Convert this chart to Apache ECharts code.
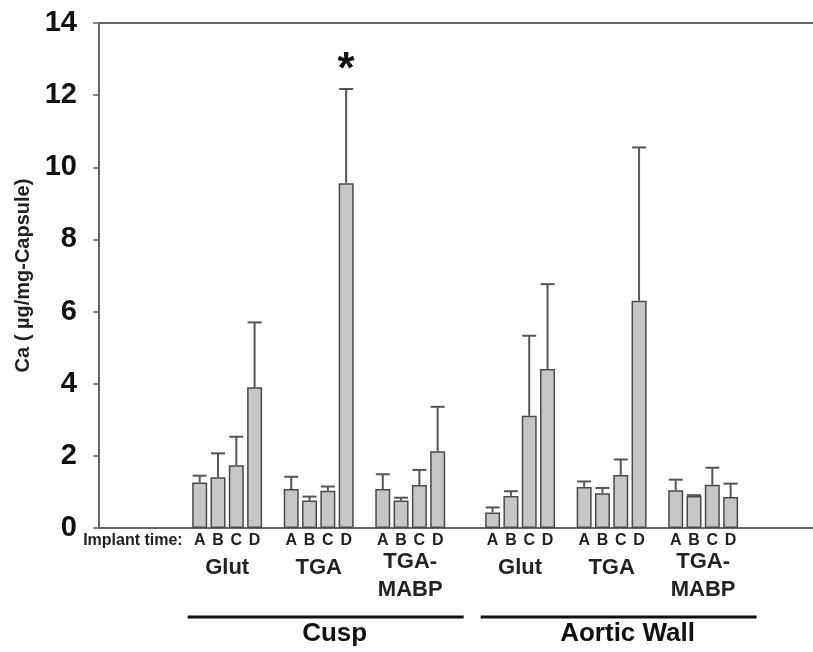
<!DOCTYPE html>
<html>
<head>
<meta charset="utf-8">
<script src="https://cdn.jsdelivr.net/npm/echarts@6/dist/echarts.min.js"></script>
<style>
  html, body { margin: 0; padding: 0; background: #fff; }
  #chart { width: 813px; height: 652px; }
</style>
</head>
<body>
<div id="chart"></div>
<script>
// implant times, materials and tissues
const times = ['A', 'B', 'C', 'D']
const materials = ['Glut', 'TGA', 'TGA-\nMABP']
const tissues = ['Cusp', 'Aortic Wall']

// mean Ca (µg/mg capsule) for times A-D
const cuspGlut = [1.26, 1.41, 1.74, 3.90]
const cuspTGA = [1.08, 0.76, 1.03, 9.56]
const cuspMABP = [1.08, 0.76, 1.19, 2.13]
const wallGlut = [0.43, 0.89, 3.11, 4.41]
const wallTGA = [1.14, 0.96, 1.47, 6.30]
const wallMABP = [1.05, 0.89, 1.20, 0.86]

// upper error bar (SD)
const cuspGlutSd = [0.19, 0.66, 0.79, 1.80]
const cuspTGASd = [0.34, 0.11, 0.12, 2.61]
const cuspMABPSd = [0.41, 0.08, 0.42, 1.23]
const wallGlutSd = [0.14, 0.13, 2.22, 2.35]
const wallTGASd = [0.15, 0.15, 0.43, 4.25]
const wallMABPSd = [0.29, 0.02, 0.47, 0.37]

// significance marks
const cuspTGAMarks = ['', '', '', '*']
const noMarks = ['', '', '', '']

const yTicks = [0, 2, 4, 6, 8, 10, 12, 14]

const FONT = 'Liberation Sans, Arial, sans-serif'

const groups = [
    [[cuspGlut, cuspGlutSd, noMarks], [cuspTGA, cuspTGASd, cuspTGAMarks], [cuspMABP, cuspMABPSd, noMarks]],
    [[wallGlut, wallGlutSd, noMarks], [wallTGA, wallTGASd, noMarks], [wallMABP, wallMABPSd, noMarks]]
]

// lay bars out on a category axis with empty slots between groups
let cats = [], barData = [], errData = [], marks = []
let groupStart = [], tissueRange = []
const pushBlank = () => { cats.push(''); barData.push(null) }
for (let i = 0; i < 5; i++) pushBlank()
groups.forEach((tissue, ti) => {
    let first = cats.length
    tissue.forEach((g, mi) => {
        groupStart.push({ idx: cats.length, name: materials[mi] })
        for (let k = 0; k < times.length; k++) {
            errData.push([cats.length, g[0][k], g[1][k]])
            marks.push(g[2][k])
            cats.push(times[k])
            barData.push(g[0][k])
        }
        pushBlank()
    })
    tissueRange.push({ first: first, last: cats.length - 2, name: tissues[ti] })
    pushBlank()
})
pushBlank()
pushBlank()

let chart = echarts.init(document.getElementById('chart'))

let option = {
    animation: false,
    grid: { left: 99, top: 23, right: 0, bottom: 124 },
    xAxis: [
        {
            type: 'category',
            data: cats,
            position: 'bottom',
            axisLine: { lineStyle: { color: '#666', width: 2 } },
            axisTick: { show: false },
            axisLabel: { interval: 0, margin: 5, fontSize: 16, fontWeight: 'bold', color: '#222', fontFamily: FONT },
            splitLine: { show: false }
        },
        {
            type: 'category',
            data: cats,
            position: 'top',
            axisLine: { lineStyle: { color: '#666', width: 2 } },
            axisTick: { show: false },
            axisLabel: { show: false },
            splitLine: { show: false }
        }
    ],
    yAxis: {
        type: 'value',
        min: yTicks[0],
        max: yTicks[yTicks.length - 1],
        interval: yTicks[1] - yTicks[0],
        axisLine: { show: true, lineStyle: { color: '#666', width: 2 } },
        axisTick: { show: true, length: 6, lineStyle: { color: '#666', width: 1.5 } },
        axisLabel: { fontSize: 29, fontWeight: 'bold', color: '#111', margin: 22, fontFamily: FONT },
        splitLine: { show: false },
        name: 'Ca ( µg/mg-Capsule)',
        nameLocation: 'middle',
        nameGap: 66,
        nameRotate: 90,
        nameTextStyle: { fontSize: 20, fontWeight: 'bold', color: '#222', fontFamily: FONT }
    },
    series: [
        {
            type: 'bar',
            data: barData,
            barWidth: 15,
            itemStyle: { color: '#c6c6c6', borderColor: '#4a4a4a', borderWidth: 1.5 }
        },
        {
            type: 'custom',
            data: errData,
            dimensions: ['x', 'mean', 'sd'],
            encode: { x: 0, y: 1 },
            z: 3,
            renderItem: (params, api) => {
                let x = api.value(0), m = api.value(1), s = api.value(2)
                let p0 = api.coord([x, m])
                let p1 = api.coord([x, m + s])
                let children = [
                    { type: 'line', shape: { x1: p0[0], y1: p0[1], x2: p1[0], y2: p1[1] }, style: { stroke: '#555', lineWidth: 2 } },
                    { type: 'line', shape: { x1: p1[0] - 7, y1: p1[1], x2: p1[0] + 7, y2: p1[1] }, style: { stroke: '#555', lineWidth: 2 } }
                ]
                let mk = marks[params.dataIndex]
                if (mk) {
                    children.push({
                        type: 'text',
                        style: { text: mk, x: p1[0], y: p1[1] - 18, align: 'center', verticalAlign: 'middle', fontSize: 44, fontWeight: 'bold', fill: '#111', fontFamily: FONT }
                    })
                }
                return { type: 'group', children: children }
            }
        }
    ]
}

chart.setOption(option)

// group and tissue labels placed from the axis scale
let px = (i) => chart.convertToPixel({ xAxisIndex: 0 }, i)
let base = chart.convertToPixel({ yAxisIndex: 0 }, 0)
let graphics = []
graphics.push({
    type: 'text',
    style: { text: 'Implant time:', x: px(groupStart[0].idx) - 17, y: base + 13, align: 'right', verticalAlign: 'middle', fontSize: 16, fontWeight: 'bold', fill: '#222', fontFamily: FONT }
})
groupStart.forEach(g => {
    let cx = (px(g.idx + 1) + px(g.idx + 2)) / 2
    let twoLines = g.name.indexOf('\n') >= 0
    graphics.push({
        type: 'text',
        style: { text: g.name, x: cx, y: base + (twoLines ? 48 : 40), align: 'center', verticalAlign: 'middle', lineHeight: 28, fontSize: 22, fontWeight: 'bold', fill: '#222', fontFamily: FONT }
    })
})
tissueRange.forEach(t => {
    let x1 = px(t.first) - 12, x2 = px(t.last) + 26
    graphics.push({
        type: 'line',
        shape: { x1: x1, y1: base + 89, x2: x2, y2: base + 89 },
        style: { stroke: '#111', lineWidth: 3 }
    })
    graphics.push({
        type: 'text',
        style: { text: t.name, x: (x1 + x2) / 2 + 9, y: base + 106, align: 'center', verticalAlign: 'middle', fontSize: 26, fontWeight: 'bold', fill: '#111', fontFamily: FONT }
    })
})
chart.setOption({ graphic: graphics })

window.onresize = () => {
    chart.resize()
}
</script>
</body>
</html>
